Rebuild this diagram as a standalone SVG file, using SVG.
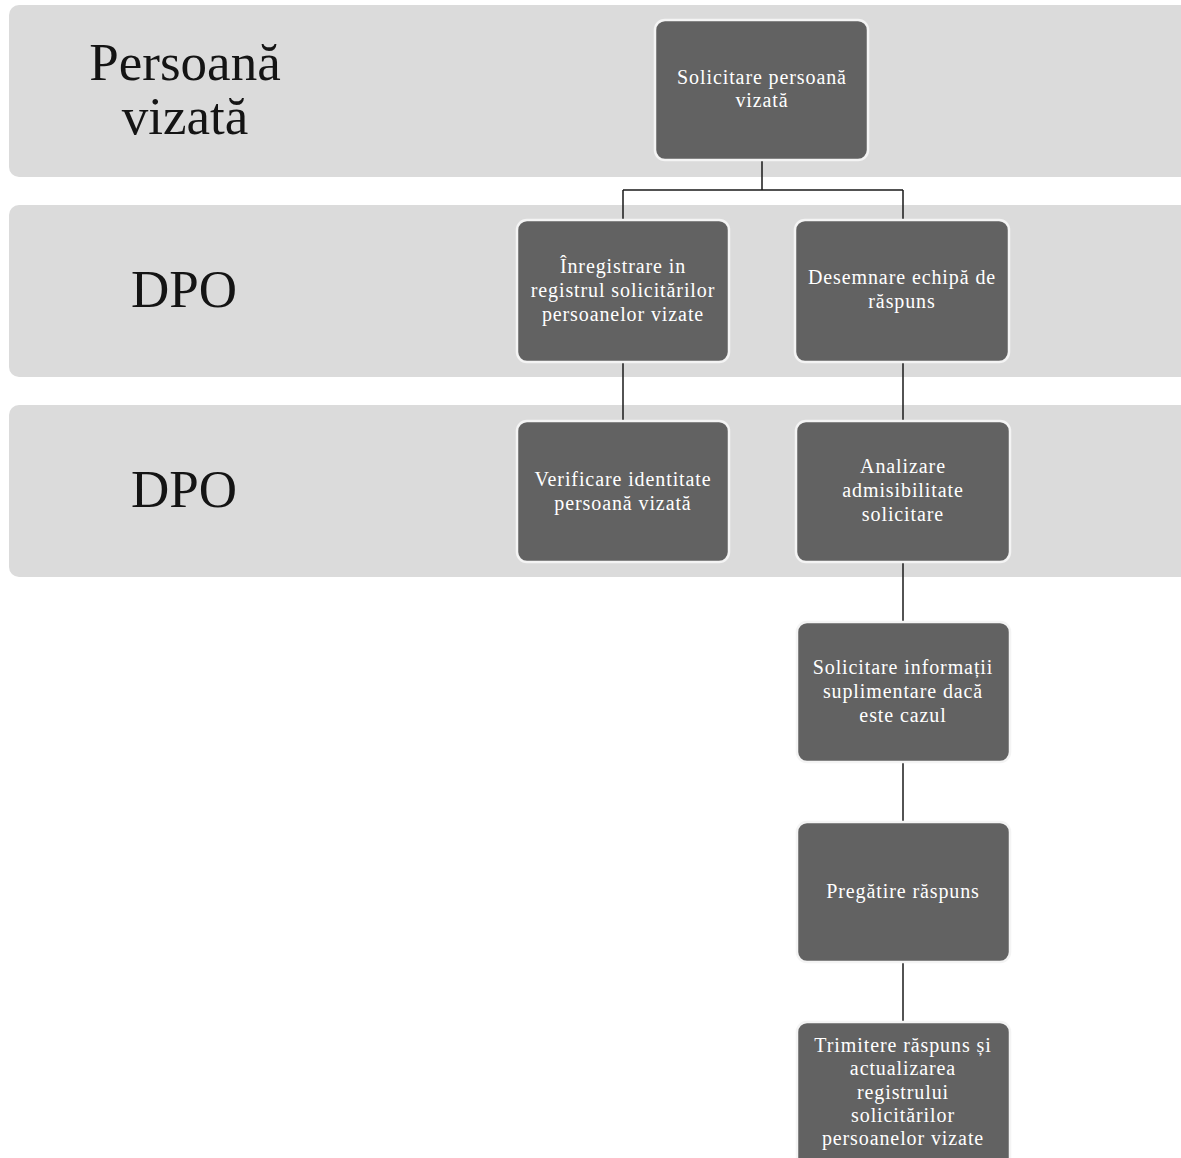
<svg xmlns="http://www.w3.org/2000/svg" width="1181" height="1158" viewBox="0 0 1181 1158">
<style>
.band{fill:#dbdbdb;}
.lane{font-family:"Liberation Serif","Times New Roman",serif;font-size:53px;fill:#141414;text-anchor:middle;}
.box{fill:#626262;stroke:#f4f4f4;stroke-width:2.5;}
.t{font-family:"Liberation Serif","Times New Roman",serif;font-size:20px;letter-spacing:0.9px;fill:#ffffff;text-anchor:middle;}
.c{stroke:#1a1a1a;stroke-width:1.5;fill:none;}
</style>
<rect width="1181" height="1158" fill="#ffffff"/>
<g id="lane1">
<rect class="band" x="9" y="5" width="1185" height="172" rx="10"/>
<text class="lane" x="185" y="80">Persoană</text>
<text class="lane" x="185" y="134">vizată</text>
</g>
<g id="lane2">
<rect class="band" x="9" y="205" width="1185" height="172" rx="10"/>
<text class="lane" x="184" y="307">DPO</text>
</g>
<g id="lane3">
<rect class="band" x="9" y="405" width="1185" height="172" rx="10"/>
<text class="lane" x="184" y="507">DPO</text>
</g>
<g id="connectors">
<path class="c" d="M762 160V190M623 190H903M623 190V220M903 190V220"/>
<path class="c" d="M623 362V421"/>
<path class="c" d="M903 362V421"/>
<path class="c" d="M903 562V622"/>
<path class="c" d="M903 762V822"/>
<path class="c" d="M903 962V1022"/>
</g>
<g id="n1">
<rect class="box" x="655" y="20" width="213" height="140" rx="10"/>
<text class="t" x="762" y="84">Solicitare persoană</text>
<text class="t" x="762" y="107">vizată</text>
</g>
<g id="n2">
<rect class="box" x="517" y="220" width="212" height="142" rx="10"/>
<text class="t" x="623" y="273">Înregistrare in</text>
<text class="t" x="623" y="297">registrul solicitărilor</text>
<text class="t" x="623" y="321">persoanelor vizate</text>
</g>
<g id="n3">
<rect class="box" x="795" y="220" width="214" height="142" rx="10"/>
<text class="t" x="902" y="284">Desemnare echipă de</text>
<text class="t" x="902" y="308">răspuns</text>
</g>
<g id="n4">
<rect class="box" x="517" y="421" width="212" height="141" rx="10"/>
<text class="t" x="623" y="486">Verificare identitate</text>
<text class="t" x="623" y="510">persoană vizată</text>
</g>
<g id="n5">
<rect class="box" x="796" y="421" width="214" height="141" rx="10"/>
<text class="t" x="903" y="473">Analizare</text>
<text class="t" x="903" y="497">admisibilitate</text>
<text class="t" x="903" y="521">solicitare</text>
</g>
<g id="n6">
<rect class="box" x="797" y="622" width="213" height="140" rx="10"/>
<text class="t" x="903" y="674">Solicitare informații</text>
<text class="t" x="903" y="698">suplimentare dacă</text>
<text class="t" x="903" y="722">este cazul</text>
</g>
<g id="n7">
<rect class="box" x="797" y="822" width="213" height="140" rx="10"/>
<text class="t" x="903" y="898">Pregătire răspuns</text>
</g>
<g id="n8">
<rect class="box" x="797" y="1022" width="213" height="146" rx="10"/>
<text class="t" x="903" y="1052">Trimitere răspuns și</text>
<text class="t" x="903" y="1075">actualizarea</text>
<text class="t" x="903" y="1099">registrului</text>
<text class="t" x="903" y="1122">solicitărilor</text>
<text class="t" x="903" y="1145">persoanelor vizate</text>
</g>
</svg>
